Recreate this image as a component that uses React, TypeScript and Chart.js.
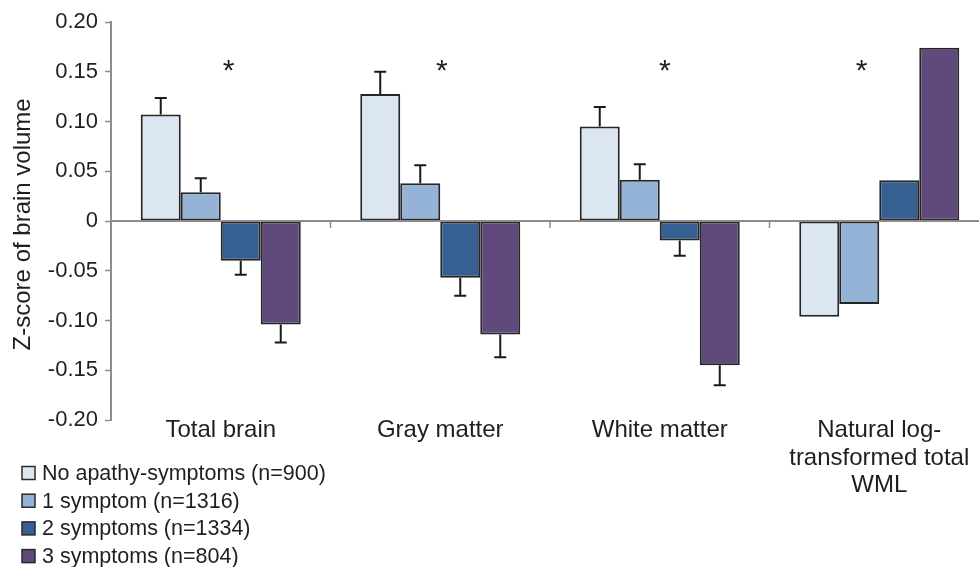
import React, { useEffect, useRef } from "react";
import { Chart, registerables } from "chart.js";

Chart.register(...registerables);

// ---------- data ----------
const categories: (string | string[])[] = [
  "Total brain",
  "Gray matter",
  "White matter",
  ["Natural log-", "transformed total", "WML"],
];

const seriesNames = [
  "No apathy-symptoms (n=900)",
  "1 symptom (n=1316)",
  "2 symptoms (n=1334)",
  "3 symptoms (n=804)",
];

const noApathy = [0.107, 0.1276, 0.095, -0.0963];
const oneSymptom = [0.029, 0.038, 0.0414, -0.0835];
const twoSymptoms = [-0.04, -0.057, -0.0195, 0.041];
const threeSymptoms = [-0.104, -0.114, -0.145, 0.174];

// standard errors (drawn away from zero)
const noApathyErr = [0.0165, 0.0225, 0.0195, null];
const oneSymptomErr = [0.014, 0.018, 0.0156, null];
const twoSymptomsErr = [0.014, 0.018, 0.0155, null];
const threeSymptomsErr = [0.018, 0.023, 0.02, null];

const yTickValues = [-0.2, -0.15, -0.1, -0.05, 0, 0.05, 0.1, 0.15, 0.2];
const yTickLabels = ["-0.20", "-0.15", "-0.10", "-0.05", "0", "0.05", "0.10", "0.15", "0.20"];

// significance markers: value level and shift within category (fraction of category width)
const asteriskValue = 0.159;
const asteriskShift = [0.036, 0.007, 0.023, -0.08];

const seriesColors = ["#DCE6F2", "#95B3D7", "#376092", "#604A7B"];

// ---------- component ----------
const FONT = '"Liberation Sans", Arial, Helvetica, sans-serif';
const TEXT = "#1f1f1f";
const AXIS = "#8c8c8c";

export default function App() {
  const ref = useRef<HTMLCanvasElement | null>(null);

  useEffect(() => {
    if (!ref.current) return;
    const values = [noApathy, oneSymptom, twoSymptoms, threeSymptoms];
    const errors = [noApathyErr, oneSymptomErr, twoSymptomsErr, threeSymptomsErr];

    const extras = {
      id: "extras",
      afterDatasetsDraw(chart: any) {
        const ctx = chart.ctx as CanvasRenderingContext2D;
        const xs = chart.scales.x;
        const ys = chart.scales.y;
        const area = chart.chartArea;
        const zero = ys.getPixelForValue(0);
        ctx.save();
        // zero line
        ctx.strokeStyle = AXIS;
        ctx.lineWidth = 2;
        ctx.beginPath();
        ctx.moveTo(area.left, zero);
        ctx.lineTo(area.right, zero);
        ctx.stroke();
        // category separator ticks
        ctx.lineWidth = 1.5;
        for (let i = 1; i < categories.length; i++) {
          const bx = (xs.getPixelForValue(i - 1) + xs.getPixelForValue(i)) / 2;
          ctx.beginPath();
          ctx.moveTo(bx, zero);
          ctx.lineTo(bx, zero + 7);
          ctx.stroke();
        }
        // error bars
        ctx.strokeStyle = "#1a1a1a";
        ctx.lineWidth = 2;
        chart.data.datasets.forEach((ds: any, di: number) => {
          const meta = chart.getDatasetMeta(di);
          meta.data.forEach((bar: any, i: number) => {
            const e = ds.errors[i];
            if (e == null) return;
            const v = ds.data[i];
            const end = v + (v >= 0 ? e : -e);
            const y0 = ys.getPixelForValue(v);
            const y1 = ys.getPixelForValue(end);
            ctx.beginPath();
            ctx.moveTo(bar.x, y0);
            ctx.lineTo(bar.x, y1);
            ctx.moveTo(bar.x - 6, y1);
            ctx.lineTo(bar.x + 6, y1);
            ctx.stroke();
          });
        });
        // asterisks
        const catW = xs.getPixelForValue(1) - xs.getPixelForValue(0);
        const fs = 30;
        ctx.fillStyle = TEXT;
        ctx.font = `${fs}px ${FONT}`;
        ctx.textAlign = "center";
        ctx.textBaseline = "alphabetic";
        asteriskShift.forEach((s, i) => {
          const ax = xs.getPixelForValue(i) + s * catW;
          const ay = ys.getPixelForValue(asteriskValue) + 0.57 * fs;
          ctx.fillText("*", ax, ay);
        });
        ctx.restore();
      },
      afterDraw(chart: any) {
        // legend list, one entry per row, bottom-left
        const ctx = chart.ctx as CanvasRenderingContext2D;
        ctx.save();
        ctx.font = `21.5px ${FONT}`;
        ctx.textBaseline = "middle";
        ctx.textAlign = "left";
        const startY = 473;
        const rowH = 27.7;
        chart.data.datasets.forEach((ds: any, i: number) => {
          const cy = startY + i * rowH;
          ctx.fillStyle = ds.backgroundColor;
          ctx.fillRect(22, cy - 6.5, 13, 13);
          ctx.strokeStyle = "#2a2a2a";
          ctx.lineWidth = 1.5;
          ctx.strokeRect(22, cy - 6.5, 13, 13);
          ctx.fillStyle = TEXT;
          ctx.fillText(ds.label, 42, cy + 1);
        });
        ctx.restore();
      },
    };

    const chart = new Chart(ref.current, {
      type: "bar",
      data: {
        labels: categories,
        datasets: seriesNames.map((name, i) => ({
          label: name,
          data: values[i],
          errors: errors[i],
          backgroundColor: seriesColors[i],
          borderColor: "#262626",
          borderWidth: 2,
          borderSkipped: false,
          categoryPercentage: 0.729,
          barPercentage: 1,
        })) as any,
      },
      options: {
        responsive: false,
        animation: false,
        maintainAspectRatio: false,
        layout: { padding: { top: 22, right: 1, bottom: 0, left: 0 } },
        plugins: {
          legend: { display: false },
          tooltip: { enabled: false },
        },
        scales: {
          x: {
            grid: { display: false, drawTicks: false },
            border: { display: false },
            ticks: {
              color: TEXT,
              font: { family: FONT, size: 24, lineHeight: 1.146 },
              padding: -3,
              maxRotation: 0,
              autoSkip: false,
            },
            afterFit(scale: any) {
              scale.height = 147;
            },
          },
          y: {
            min: -0.2,
            max: 0.2,
            afterBuildTicks(scale: any) {
              scale.ticks = yTickValues.map((v) => ({ value: v }));
            },
            grid: {
              drawOnChartArea: false,
              drawTicks: true,
              tickLength: 6,
              tickColor: AXIS,
              tickWidth: 1.5,
            },
            border: { display: true, color: AXIS, width: 2 },
            ticks: {
              color: TEXT,
              font: { family: FONT, size: 22 },
              padding: 7,
              callback: (_v: any, idx: number) => yTickLabels[idx],
            },
            title: {
              display: true,
              text: "Z-score of brain volume ",
              color: TEXT,
              font: { family: FONT, size: 24 },
              padding: { top: 9, bottom: 0 },
            },
            afterFit(scale: any) {
              scale.width = 111;
            },
          },
        },
      },
      plugins: [extras],
    });
    return () => chart.destroy();
  }, []);

  return (
    <div
      style={{
        position: "fixed",
        left: 0,
        top: 0,
        width: 979,
        height: 567,
        overflow: "hidden",
        background: "#ffffff",
      }}
    >
      <canvas ref={ref} width={990} height={567} style={{ width: 990, height: 567, display: "block" }} />
    </div>
  );
}
